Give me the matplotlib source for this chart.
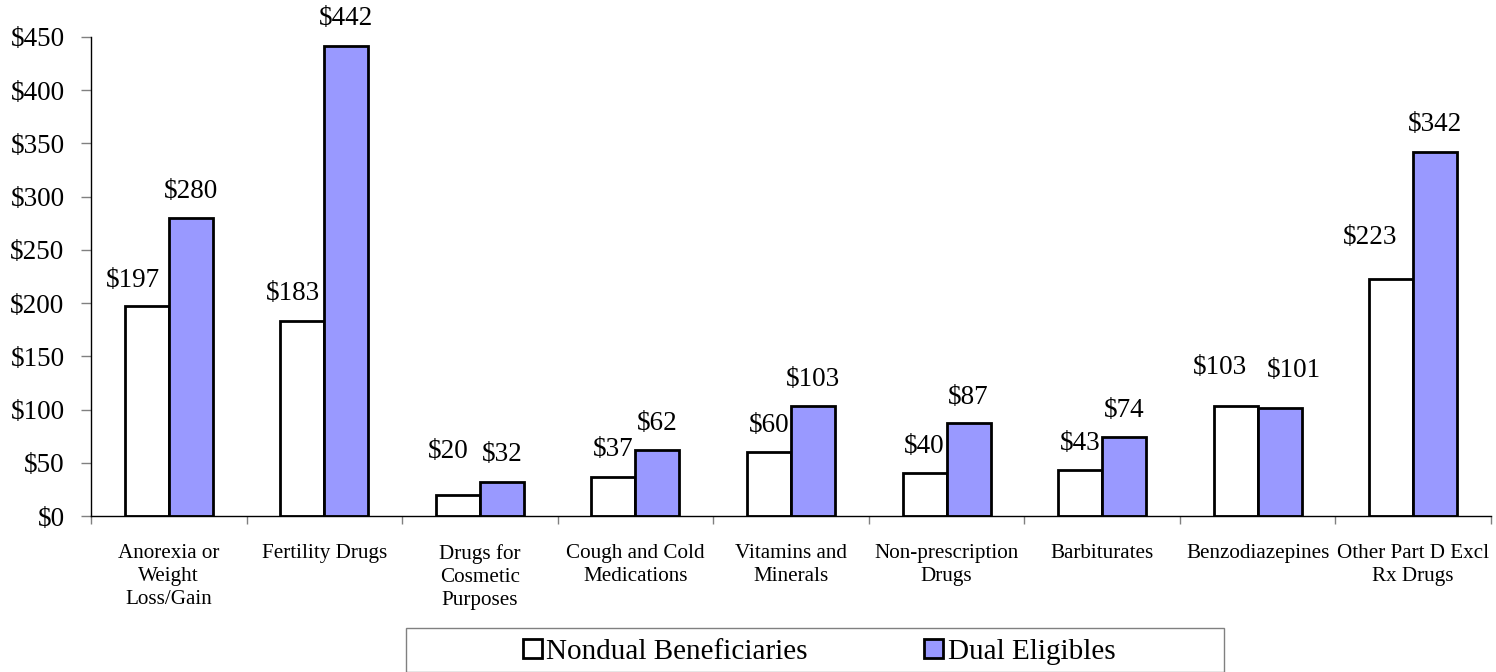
import matplotlib
matplotlib.use("Agg")
import matplotlib.pyplot as plt
from matplotlib.patches import Rectangle
import numpy as np

plt.rcParams['font.family'] = ['Liberation Serif', 'DejaVu Serif']

# data
categories = ["Anorexia or\nWeight\nLoss/Gain", "Fertility Drugs", "Drugs for\nCosmetic\nPurposes",
              "Cough and Cold\nMedications", "Vitamins and\nMinerals", "Non-prescription\nDrugs",
              "Barbiturates", "Benzodiazepines", "Other Part D Excl\nRx Drugs"]
nondual = [197, 183, 20, 37, 60, 40, 43, 103, 223]
dual = [280, 442, 32, 62, 103, 87, 74, 101, 342]
series_names = ["Nondual Beneficiaries", "Dual Eligibles"]

# label nudges (pixels) where the labels were moved to avoid overlap
nondual_dx = [-14, -9, -10, 0, 0, 0, 0, -16, -21]
nondual_dy = [26, 28, 43, 27, 27, 27, 27, 39, 41]
dual_dx = [0, 0, 0, 0, 0, 0, 0, 14, 0]
dual_dy = [26, 27, 27, 27, 27, 26, 27, 38, 27]

fig = plt.figure(figsize=(14.96, 6.72), dpi=100)
ax = fig.add_axes([91/1496, 1 - 516/672, 1400/1496, 479/672])

x = np.arange(len(categories))
w = 0.283
b1 = ax.bar(x - w/2, nondual, w, color='white', edgecolor='black', linewidth=2, label=series_names[0])
b2 = ax.bar(x + w/2, dual, w, color='#9999FF', edgecolor='black', linewidth=2, label=series_names[1])

px = 72 / 100
for bars, dxs, dys in [(b1, nondual_dx, nondual_dy), (b2, dual_dx, dual_dy)]:
    for r, dx, dy in zip(bars, dxs, dys):
        v = r.get_height()
        ax.annotate(f"${v:.0f}", (r.get_x() + r.get_width()/2, v),
                    xytext=(dx*px, dy*px), textcoords='offset points',
                    ha='center', va='center', fontsize=19.5)

ax.set_xlim(-0.5, len(categories) - 0.5)
ax.set_ylim(0, 450)
ax.set_yticks(np.arange(0, 451, 50))
ax.set_yticklabels([f"${t}" for t in range(0, 451, 50)], fontsize=19.5)
ax.tick_params(axis='y', direction='out', length=7, width=1, color='#808080', pad=12)

ax.set_xticks(x)
ax.set_xticklabels(categories, fontsize=15.2, linespacing=1.3)
ax.tick_params(axis='x', length=0, pad=20)
ax.set_xticks(np.arange(-0.5, len(categories), 1), minor=True)
ax.tick_params(axis='x', which='minor', direction='out', length=6, width=1, color='#808080')

for s in ['top', 'right']:
    ax.spines[s].set_visible(False)
ax.spines['left'].set_linewidth(1)
ax.spines['bottom'].set_linewidth(1)

# legend box
fig.patches.append(Rectangle((406/1496, 0), 818/1496, 44/672, transform=fig.transFigure,
                             facecolor='white', edgecolor='#808080', linewidth=1))
fig.legend(handles=[b1, b2], labels=series_names, loc='center', ncol=2,
           bbox_to_anchor=(819/1496, 1 - 652/672), frameon=False, fontsize=21,
           handlelength=0.65, handleheight=0.65, handletextpad=0.15, columnspacing=4.0)

fig.savefig("out.png", dpi=100)
